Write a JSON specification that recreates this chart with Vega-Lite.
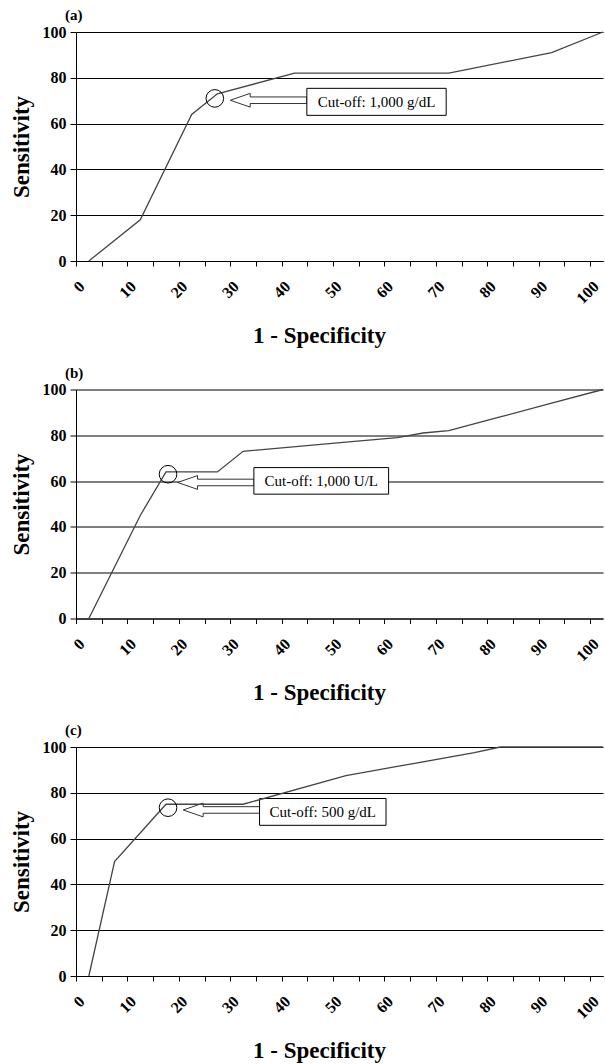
{
  "$schema": "https://vega.github.io/schema/vega-lite/v6.json",
  "padding": {"left": 10, "top": 8, "right": 0, "bottom": 0},
  "spacing": 17.5,
  "config": {
    "view": {"stroke": null},
    "font": "Liberation Serif",
    "axis": {
      "labelFont": "Liberation Serif", "labelFontWeight": "bold", "labelFontSize": 16, "labelColor": "black",
      "titleFont": "Liberation Serif", "titleFontWeight": "bold", "titleFontSize": 23, "titleColor": "black",
      "domainColor": "black", "tickColor": "black", "gridColor": "black", "gridOpacity": 1, "gridWidth": 1, "domainWidth": 1
    },
    "title": {"font": "Liberation Serif", "fontWeight": "bold", "fontSize": 15, "color": "black", "anchor": "start", "frame": "group", "dx": -11, "offset": 1}
  },
  "datasets": {
    "roc_a": [
      {"x": 2.5, "y": 0}, {"x": 12.5, "y": 18}, {"x": 22.5, "y": 64}, {"x": 27.5, "y": 73},
      {"x": 42.5, "y": 82}, {"x": 72.5, "y": 82}, {"x": 92.5, "y": 91}, {"x": 102.5, "y": 100}
    ],
    "roc_b": [
      {"x": 2.5, "y": 0}, {"x": 12.5, "y": 45}, {"x": 17.5, "y": 64}, {"x": 27.5, "y": 64},
      {"x": 32.5, "y": 73}, {"x": 52.5, "y": 77}, {"x": 62.5, "y": 79}, {"x": 67.5, "y": 81},
      {"x": 72.5, "y": 82}, {"x": 82.5, "y": 88}, {"x": 92.5, "y": 94}, {"x": 102.5, "y": 100}
    ],
    "roc_c": [
      {"x": 2.5, "y": 0}, {"x": 7.5, "y": 50}, {"x": 17.5, "y": 75}, {"x": 32.5, "y": 75},
      {"x": 52.5, "y": 87.5}, {"x": 62.5, "y": 91.5}, {"x": 77.5, "y": 97.5}, {"x": 82.5, "y": 100},
      {"x": 102.5, "y": 100}
    ],
    "circ_a": [{"x": 27, "y": 71}],
    "circ_b": [{"x": 17.9, "y": 63}],
    "circ_c": [{"x": 17.9, "y": 73.5}],
    "arrow_a": [{"x": 37.45, "y": 70.2}],
    "arrow_b": [{"x": 27.2, "y": 59.4}],
    "arrow_c": [{"x": 28.3, "y": 72.5}],
    "box_a": [{"x": 44.9, "x2": 72, "y": 63.6, "y2": 75.4}],
    "box_b": [{"x": 34.6, "x2": 60.8, "y": 54.3, "y2": 65.9}],
    "box_c": [{"x": 35.7, "x2": 60.3, "y": 65.8, "y2": 77.5}],
    "label_a": [{"x": 58.45, "y": 69.5, "label": "Cut-off: 1,000 g/dL"}],
    "label_b": [{"x": 47.7, "y": 60.1, "label": "Cut-off: 1,000 U/L"}],
    "label_c": [{"x": 48, "y": 71.6, "label": "Cut-off: 500 g/dL"}]
  },
  "vconcat": [
    {
      "width": 527, "height": 229,
      "title": {"text": "(a)"},
      "encoding": {
        "x": {"field": "x", "type": "quantitative", "scale": {"domain": [0, 102.5], "nice": false, "zero": false},
          "axis": {"title": "1 - Specificity", "values": [0,5,10,15,20,25,30,35,40,45,50,55,60,65,70,75,80,85,90,95,100],
            "labelExpr": "datum.value % 10 === 0 ? datum.label : ''", "labelAngle": -45, "labelOverlap": false, "labelFlush": false,
            "grid": false, "tickSize": 5, "labelPadding": 12, "titlePadding": 18, "titleX": 243}},
        "y": {"field": "y", "type": "quantitative", "scale": {"domain": [0, 100], "nice": false},
          "axis": {"title": "Sensitivity", "values": [0,20,40,60,80,100], "grid": true, "tickSize": 6, "labelPadding": 4,
            "titlePadding": 9, "labelFlush": false}}
      },
      "layer": [
        {"data": {"name": "arrow_a"}, "mark": {"type": "point", "shape": "M -1 0 L -0.48 -0.18 L -0.48 -0.086 L 1 -0.086 L 1 0.086 L -0.48 0.086 L -0.48 0.18 Z", "size": 5852, "filled": true, "fill": "white", "stroke": "#333", "strokeWidth": 1, "opacity": 1}},
        {"data": {"name": "box_a"}, "mark": {"type": "rect", "fill": "white", "stroke": "black", "strokeWidth": 1}, "encoding": {"x2": {"field": "x2"}, "y2": {"field": "y2"}}},
        {"data": {"name": "roc_a"}, "mark": {"type": "line", "color": "#444", "strokeWidth": 1.3}},
        {"data": {"name": "circ_a"}, "mark": {"type": "point", "shape": "circle", "size": 310, "filled": false, "stroke": "black", "strokeWidth": 1, "opacity": 1}},
        {"data": {"name": "label_a"}, "mark": {"type": "text", "font": "Liberation Serif", "fontSize": 15, "color": "black", "align": "center", "baseline": "middle"}, "encoding": {"text": {"field": "label"}}}
      ]
    },
    {
      "width": 527, "height": 229,
      "title": {"text": "(b)"},
      "encoding": {
        "x": {"field": "x", "type": "quantitative", "scale": {"domain": [0, 102.5], "nice": false, "zero": false},
          "axis": {"title": "1 - Specificity", "values": [0,5,10,15,20,25,30,35,40,45,50,55,60,65,70,75,80,85,90,95,100],
            "labelExpr": "datum.value % 10 === 0 ? datum.label : ''", "labelAngle": -45, "labelOverlap": false, "labelFlush": false,
            "grid": false, "tickSize": 5, "labelPadding": 12, "titlePadding": 18, "titleX": 243}},
        "y": {"field": "y", "type": "quantitative", "scale": {"domain": [0, 100], "nice": false},
          "axis": {"title": "Sensitivity", "values": [0,20,40,60,80,100], "grid": true, "tickSize": 6, "labelPadding": 4,
            "titlePadding": 9, "labelFlush": false}}
      },
      "layer": [
        {"data": {"name": "arrow_b"}, "mark": {"type": "point", "shape": "M -1 0 L -0.48 -0.18 L -0.48 -0.086 L 1 -0.086 L 1 0.086 L -0.48 0.086 L -0.48 0.18 Z", "size": 5852, "filled": true, "fill": "white", "stroke": "#333", "strokeWidth": 1, "opacity": 1}},
        {"data": {"name": "box_b"}, "mark": {"type": "rect", "fill": "white", "stroke": "black", "strokeWidth": 1}, "encoding": {"x2": {"field": "x2"}, "y2": {"field": "y2"}}},
        {"data": {"name": "roc_b"}, "mark": {"type": "line", "color": "#444", "strokeWidth": 1.3}},
        {"data": {"name": "circ_b"}, "mark": {"type": "point", "shape": "circle", "size": 310, "filled": false, "stroke": "black", "strokeWidth": 1, "opacity": 1}},
        {"data": {"name": "label_b"}, "mark": {"type": "text", "font": "Liberation Serif", "fontSize": 15, "color": "black", "align": "center", "baseline": "middle"}, "encoding": {"text": {"field": "label"}}}
      ]
    },
    {
      "width": 527, "height": 229,
      "title": {"text": "(c)"},
      "encoding": {
        "x": {"field": "x", "type": "quantitative", "scale": {"domain": [0, 102.5], "nice": false, "zero": false},
          "axis": {"title": "1 - Specificity", "values": [0,5,10,15,20,25,30,35,40,45,50,55,60,65,70,75,80,85,90,95,100],
            "labelExpr": "datum.value % 10 === 0 ? datum.label : ''", "labelAngle": -45, "labelOverlap": false, "labelFlush": false,
            "grid": false, "tickSize": 5, "labelPadding": 12, "titlePadding": 18, "titleX": 243}},
        "y": {"field": "y", "type": "quantitative", "scale": {"domain": [0, 100], "nice": false},
          "axis": {"title": "Sensitivity", "values": [0,20,40,60,80,100], "grid": true, "tickSize": 6, "labelPadding": 4,
            "titlePadding": 9, "labelFlush": false}}
      },
      "layer": [
        {"data": {"name": "arrow_c"}, "mark": {"type": "point", "shape": "M -1 0 L -0.48 -0.18 L -0.48 -0.086 L 1 -0.086 L 1 0.086 L -0.48 0.086 L -0.48 0.18 Z", "size": 5852, "filled": true, "fill": "white", "stroke": "#333", "strokeWidth": 1, "opacity": 1}},
        {"data": {"name": "box_c"}, "mark": {"type": "rect", "fill": "white", "stroke": "black", "strokeWidth": 1}, "encoding": {"x2": {"field": "x2"}, "y2": {"field": "y2"}}},
        {"data": {"name": "roc_c"}, "mark": {"type": "line", "color": "#444", "strokeWidth": 1.3}},
        {"data": {"name": "circ_c"}, "mark": {"type": "point", "shape": "circle", "size": 310, "filled": false, "stroke": "black", "strokeWidth": 1, "opacity": 1}},
        {"data": {"name": "label_c"}, "mark": {"type": "text", "font": "Liberation Serif", "fontSize": 15, "color": "black", "align": "center", "baseline": "middle"}, "encoding": {"text": {"field": "label"}}}
      ]
    }
  ]
}
